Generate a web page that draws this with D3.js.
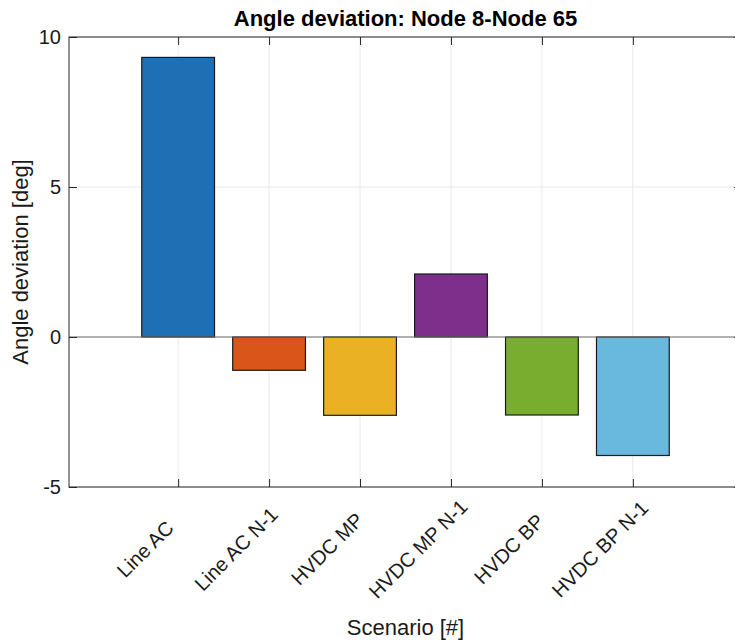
<!DOCTYPE html>
<html>
<head>
<meta charset="utf-8">
<script src="https://d3js.org/d3.v7.min.js"></script>
<style>
	body { margin: 0; background: #fff; }
	svg { display: block; font-family: "Liberation Sans", Arial, Helvetica, sans-serif; }
</style>
</head>
<body>
<svg id="chart" width="735" height="644"></svg>
<script>
// scenarios on the x axis
var scenarios = ["Line AC", "Line AC N-1", "HVDC MP", "HVDC MP N-1", "HVDC BP", "HVDC BP N-1"];
// angle deviation per scenario [deg]
var deviations = [9.32, -1.11, -2.61, 2.10, -2.60, -3.95];
// face colour per bar
var barColors = ["#1f6fb4", "#da5519", "#eab125", "#7e2f8c", "#79ad30", "#69b8dd"];
var yTicks = [-5, 0, 5, 10];

var chartTitle = "Angle deviation: Node 8-Node 65",
	xLabel = "Scenario [#]",
	yLabel = "Angle deviation [deg]";

// plot box, the right edge runs a little past the window like the original
var box = {left: 69, right: 742, top: 37, bottom: 487};
var axisColor = "#262626",
	gridColor = "#e8e8e8",
	tickLength = 8;

function draw() {
	var svg = d3.select("#chart");

	// categories sit on 1..n, with 1.2 of padding either side
	var x = d3.scaleLinear()
		.domain([-0.2, scenarios.length + 1.2])
		.range([box.left, box.right]);
	var y = d3.scaleLinear()
		.domain([-5, 10])
		.range([box.bottom, box.top]);
	var barWidth = x(0.8) - x(0);
	var positions = scenarios.map(function(d, i) { return i + 1; });

	// grid first so everything else goes over it
	var grid = svg.append("g");
	grid.selectAll(".vgrid")
		.data(positions)
		.enter().append("line")
		.attr("x1", function(d) { return x(d); })
		.attr("x2", function(d) { return x(d); })
		.attr("y1", box.top)
		.attr("y2", box.bottom)
		.style("stroke", gridColor);
	grid.selectAll(".hgrid")
		.data(yTicks)
		.enter().append("line")
		.attr("x1", box.left)
		.attr("x2", box.right)
		.attr("y1", function(d) { return y(d); })
		.attr("y2", function(d) { return y(d); })
		.style("stroke", gridColor);

	// bars grow from zero
	svg.append("g").selectAll("rect")
		.data(deviations)
		.enter().append("rect")
		.attr("x", function(d, i) { return x(positions[i]) - barWidth / 2; })
		.attr("y", function(d) { return y(Math.max(0, d)); })
		.attr("width", barWidth)
		.attr("height", function(d) { return Math.abs(y(d) - y(0)); })
		.style("fill", function(d, i) { return barColors[i]; })
		.style("stroke", "#1a1a1a")
		.style("stroke-width", 1.2);

	// baseline at zero
	svg.append("line")
		.attr("x1", box.left)
		.attr("x2", box.right)
		.attr("y1", y(0))
		.attr("y2", y(0))
		.style("stroke", "#707070")
		.style("stroke-width", 1.2);

	// bottom axis, ticks point inwards, labels drawn by hand below
	var xAxis = d3.axisBottom(x)
		.tickValues(positions)
		.tickSize(-tickLength)
		.tickFormat("");
	var gx = svg.append("g")
		.attr("transform", "translate(0," + box.bottom + ")")
		.call(xAxis);
	// top edge of the box with its ticks
	var gxTop = svg.append("g")
		.attr("transform", "translate(0," + box.top + ")")
		.call(d3.axisTop(x).tickValues(positions).tickSize(-tickLength).tickFormat(""));

	// plain hyphen for negatives, like the original
	var yAxis = d3.axisLeft(y)
		.tickValues(yTicks)
		.tickSize(-tickLength)
		.tickPadding(8)
		.tickFormat(function(d) { return String(d); });
	var gy = svg.append("g")
		.attr("transform", "translate(" + box.left + ",0)")
		.call(yAxis);
	var gyRight = svg.append("g")
		.attr("transform", "translate(" + box.right + ",0)")
		.call(d3.axisRight(y).tickValues(yTicks).tickSize(-tickLength).tickFormat(""));

	[gx, gxTop, gy, gyRight].forEach(function(g) {
		g.selectAll(".domain").attr("d", null);
		g.selectAll(".tick line").style("stroke", axisColor);
	});
	// plain box instead of the domain paths
	svg.append("rect")
		.attr("x", box.left)
		.attr("y", box.top)
		.attr("width", box.right - box.left)
		.attr("height", box.bottom - box.top)
		.style("fill", "none")
		.style("stroke", axisColor);

	gy.selectAll(".tick text")
		.style("font-size", "20px")
		.style("fill", "#1a1a1a")
		.style("font-family", "inherit");

	// rotated scenario labels, centred below and left of their tick
	svg.append("g").selectAll("text")
		.data(scenarios)
		.enter().append("text")
		.attr("transform", function(d, i) {
			return "translate(" + (x(positions[i]) - 28) + "," + (box.bottom + 67) + ") rotate(-45)";
		})
		.style("text-anchor", "middle")
		.style("font-size", "20px")
		.style("fill", "#1a1a1a")
		.text(function(d) { return d; });

	// title and axis labels
	svg.append("text")
		.attr("x", (box.left + box.right) / 2)
		.attr("y", 26)
		.style("text-anchor", "middle")
		.style("font-size", "22px")
		.style("font-weight", "bold")
		.style("fill", "#000")
		.text(chartTitle);

	svg.append("text")
		.attr("x", (box.left + box.right) / 2)
		.attr("y", 635)
		.style("text-anchor", "middle")
		.style("font-size", "22px")
		.style("fill", "#1a1a1a")
		.text(xLabel);

	svg.append("text")
		.attr("transform", "translate(28," + (box.top + box.bottom) / 2 + ") rotate(-90)")
		.style("text-anchor", "middle")
		.style("font-size", "22px")
		.style("fill", "#1a1a1a")
		.text(yLabel);
}

draw();
</script>
</body>
</html>
